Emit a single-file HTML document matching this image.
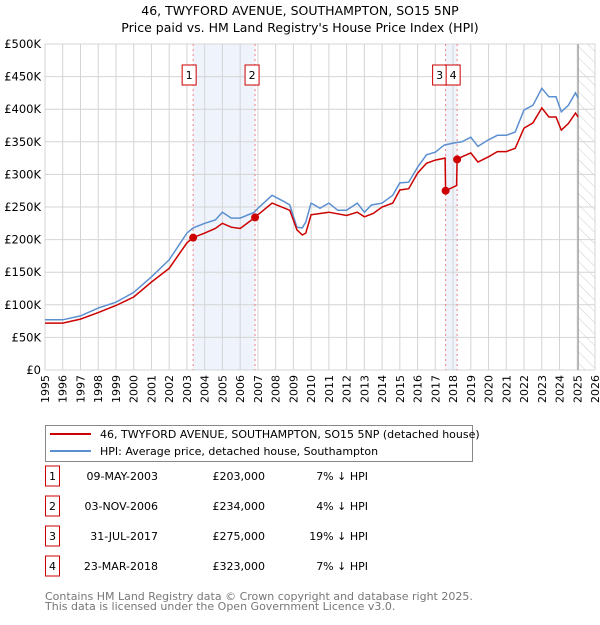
<!DOCTYPE html>
<html><head><meta charset="utf-8"><style>
body{margin:0;background:#fff;width:600px;height:620px;overflow:hidden;font-family:"Liberation Sans","DejaVu Sans",sans-serif;}
svg text{font-family:"DejaVu Sans","Liberation Sans",sans-serif;}
</style></head><body>
<svg width="600" height="620" xmlns="http://www.w3.org/2000/svg">
<defs><pattern id="hatch" width="8" height="8" patternUnits="userSpaceOnUse" patternTransform="rotate(-45)"><line x1="0" y1="0" x2="0" y2="8" stroke="#ccc" stroke-width="1"/></pattern></defs>
<text x="300" y="15" text-anchor="middle" font-size="12.5">46, TWYFORD AVENUE, SOUTHAMPTON, SO15 5NP</text>
<text x="300" y="32" text-anchor="middle" font-size="12.5">Price paid vs. HM Land Registry's House Price Index (HPI)</text>
<g id="plot"></g>
<g>
<rect x="45.5" y="425.5" width="427" height="36" fill="#fff" stroke="#888"/>
<line x1="50" y1="434" x2="91" y2="434" stroke="#cc0000" stroke-width="2"/>
<text x="100" y="438" font-size="11">46, TWYFORD AVENUE, SOUTHAMPTON, SO15 5NP (detached house)</text>
<line x1="50" y1="451" x2="91" y2="451" stroke="#5b8fd0" stroke-width="2"/>
<text x="100" y="455" font-size="11">HPI: Average price, detached house, Southampton</text>
</g>
<g id="table" font-size="11"></g>
<text x="45" y="600" font-size="11" fill="#777">Contains HM Land Registry data © Crown copyright and database right 2025.</text>
<text x="45" y="610" font-size="11" fill="#777">This data is licensed under the Open Government Licence v3.0.</text>
</svg>
<script>
const hpiYears=[1995,1996,1997,1998,1999,2000,2001,2002,2003,2003.35,2004,2004.6,2005,2005.5,2006,2006.8,2007,2007.8,2008.5,2008.8,2009.2,2009.5,2009.7,2010,2010.5,2011,2011.5,2012,2012.6,2013,2013.4,2014,2014.6,2015,2015.5,2016,2016.5,2017,2017.5,2018,2018.5,2019,2019.4,2020,2020.5,2021,2021.5,2022,2022.5,2023,2023.4,2023.8,2024.1,2024.5,2024.9,2025.05];
const hpiValues=[77,77,83,95,104,119,143,169,210,218,225,230,242,233,233,242,248,268,258,253,219,218,227,256,248,256,245,245,256,242,253,256,268,287,288,311,330,334,345,348,350,357,343,353,360,360,365,399,406,432,419,419,396,406,425,417];
const priceYears=[1995,1996,1997,1998,1999,2000,2001,2002,2003,2003.35,2004,2004.6,2005,2005.5,2006,2006.84,2007,2007.8,2008.8,2009.2,2009.5,2009.7,2010,2010.5,2011,2012,2012.6,2013,2013.5,2014,2014.6,2015,2015.5,2016,2016.5,2017,2017.55,2017.58,2018.2,2018.23,2018.5,2019,2019.4,2020,2020.5,2021,2021.5,2022,2022.5,2023,2023.4,2023.8,2024.1,2024.5,2024.9,2025.05];
const priceValues=[72,72,78,88,99,112,135,156,195,203,210,217,225,219,217,234,238,256,245,215,207,210,238,240,242,237,242,235,240,250,256,276,278,302,317,322,325,275,283,323,327,333,319,327,335,335,340,371,379,402,388,388,368,378,394,388];
const saleLabels=["1","2","3","4"];
const saleYears=[2003.35,2006.84,2017.58,2018.23];
const saleValues=[203,234,275,323];
const saleDates=["09-MAY-2003","03-NOV-2006","31-JUL-2017","23-MAR-2018"];
const salePrices=["£203,000","£234,000","£275,000","£323,000"];
const saleHpi=["7% ↓ HPI","4% ↓ HPI","19% ↓ HPI","7% ↓ HPI"];
const yTicks=[0,50,100,150,200,250,300,350,400,450,500];
const yTickLabels=["£0","£50K","£100K","£150K","£200K","£250K","£300K","£350K","£400K","£450K","£500K"];
const xTicks=[1995,1996,1997,1998,1999,2000,2001,2002,2003,2004,2005,2006,2007,2008,2009,2010,2011,2012,2013,2014,2015,2016,2017,2018,2019,2020,2021,2022,2023,2024,2025,2026];

const L=45,R=595,T=44,B=370;
const X=y=>L+(y-1995)*(R-L)/31;
const Y=v=>B-v*(B-T)/500;
const NS="http://www.w3.org/2000/svg";
const plot=document.getElementById('plot');
function mk(tag,attrs,parent){const e=document.createElementNS(NS,tag);for(const k in attrs)e.setAttribute(k,attrs[k]);(parent||plot).appendChild(e);return e;}

for(const [a,b] of [[0,1],[2,3]]){
  const r=mk('rect',{x:X(saleYears[a]),y:T,width:X(saleYears[b])-X(saleYears[a]),height:B-T,fill:'#eef3fc'});
  
  
}
const h=mk('rect',{x:X(2025.05),y:T,width:R-X(2025.05),height:B-T,fill:'url(#hatch)'});


xTicks.forEach(t=>{const l=mk('line',{x1:X(t),x2:X(t),y1:T,y2:B,stroke:'#d4d4d4'});
  
  
  const tx=mk('text',{x:0,y:0,'font-size':11,'text-anchor':'end',transform:`translate(${X(t)+4},${B+5}) rotate(-90)`});tx.textContent=t;
  
  });
yTicks.forEach((t,i)=>{const l=mk('line',{x1:L,x2:R,y1:Y(t),y2:Y(t),stroke:'#d4d4d4'});
  
  
  const tx=mk('text',{x:L-4,y:Y(t)+4,'font-size':11.5,'text-anchor':'end'});tx.textContent=yTickLabels[i];
  
  });
const nl=mk('line',{x1:X(2025.05),x2:X(2025.05),y1:T,y2:B,stroke:'#999','stroke-width':1.2});


saleYears.forEach(s=>{const l=mk('line',{x1:X(s),x2:X(s),y1:T,y2:B,stroke:'#f08080','stroke-width':1,'stroke-dasharray':'2,3'});
  
  });
const pts=(xs,vs)=>xs.map((x,i)=>X(x).toFixed(1)+','+Y(vs[i]).toFixed(1)).join(' ');
const hl=mk('polyline',{points:pts(hpiYears,hpiValues),fill:'none',stroke:'#5b8fd0','stroke-width':1.5});


const pl=mk('polyline',{points:pts(priceYears,priceValues),fill:'none',stroke:'#cc0000','stroke-width':1.5});


const boxOffsets=[-11,-10,-13,-11];
saleYears.forEach((s,i)=>{const c=mk('circle',{cx:X(s),cy:Y(saleValues[i]),r:4,fill:'#cc0000'});
  
  
  const bx=X(s)+boxOffsets[i];
  const g=mk('g',{});
  
  
  mk('rect',{x:bx,y:65,width:14,height:20,fill:'#fff',stroke:'#cc0000'},g);
  const t=mk('text',{x:bx+7,y:79,'font-size':11,'text-anchor':'middle'},g);t.textContent=saleLabels[i];});
const tb=document.getElementById('table');
saleLabels.forEach((lab,i)=>{const y=476+i*30;
  const g=mk('g',{},tb);
  
  
  mk('rect',{x:45.5,y:y-10,width:14,height:20,fill:'#fff',stroke:'#cc0000'},g);
  let t=mk('text',{x:52.5,y:y+4,'text-anchor':'middle'},g);t.textContent=lab;
  t=mk('text',{x:158,y:y+4,'text-anchor':'end'},g);t.textContent=saleDates[i];
  t=mk('text',{x:265,y:y+4,'text-anchor':'end'},g);t.textContent=salePrices[i];
  t=mk('text',{x:368,y:y+4,'text-anchor':'end'},g);t.textContent=saleHpi[i];});
</script>
</body></html>
